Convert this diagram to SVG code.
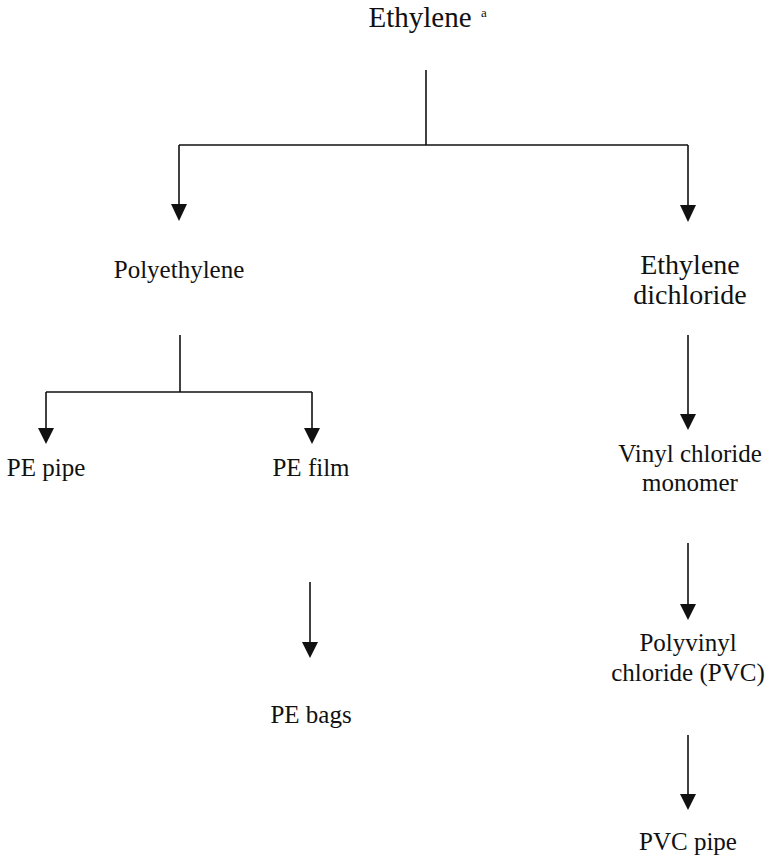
<svg xmlns="http://www.w3.org/2000/svg" width="772" height="867" viewBox="0 0 772 867">
<defs>
<style>
text{font-family:"Liberation Serif","Times New Roman",serif;fill:#111;text-anchor:middle}
.big{font-size:28px}
.med{font-size:25px}
.ln{stroke:#111;stroke-width:1.6;fill:none}
.ah{fill:#111}
</style>
</defs>
<rect width="772" height="867" fill="#fff"/>
<g id="n-ethylene"><text class="big" x="420" y="27" style="font-size:29px">Ethylene</text><text x="484" y="17" style="font-size:13px">a</text></g>
<g id="n-polyethylene"><text class="med" x="179" y="278">Polyethylene</text></g>
<g id="n-edc"><text class="big" x="690" y="274">Ethylene</text><text class="big" x="690" y="304">dichloride</text></g>
<g id="n-pepipe"><text class="med" x="46" y="476">PE pipe</text></g>
<g id="n-pefilm"><text class="med" x="311" y="476">PE film</text></g>
<g id="n-vcm"><text class="med" x="690" y="462">Vinyl chloride</text><text class="med" x="690" y="491">monomer</text></g>
<g id="n-pebags"><text class="med" x="311" y="723">PE bags</text></g>
<g id="n-pvc"><text class="med" x="688" y="651">Polyvinyl</text><text class="med" x="688" y="681">chloride (PVC)</text></g>
<g id="n-pvcpipe"><text class="med" x="688" y="850">PVC pipe</text></g>
<g id="connectors">
<path class="ln" d="M426,70 V145"/>
<path class="ln" d="M179,145 H688"/>
<path class="ln" d="M179,145 V206"/>
<path class="ah" d="M171,204 H187 L179,221 Z"/>
<path class="ln" d="M688,145 V206"/>
<path class="ah" d="M680,205 H696 L688,222 Z"/>
<path class="ln" d="M180,335 V392"/>
<path class="ln" d="M46,392 H312"/>
<path class="ln" d="M46,392 V430"/>
<path class="ah" d="M38,428 H54 L46,444 Z"/>
<path class="ln" d="M312,392 V430"/>
<path class="ah" d="M304,428 H320 L312,444 Z"/>
<path class="ln" d="M688,335 V416"/>
<path class="ah" d="M680,414 H696 L688,430 Z"/>
<path class="ln" d="M688,543 V606"/>
<path class="ah" d="M680,604 H696 L688,620 Z"/>
<path class="ln" d="M310,582 V644"/>
<path class="ah" d="M302,642 H318 L310,658 Z"/>
<path class="ln" d="M688,735 V796"/>
<path class="ah" d="M680,794 H696 L688,810 Z"/>
</g>
</svg>
